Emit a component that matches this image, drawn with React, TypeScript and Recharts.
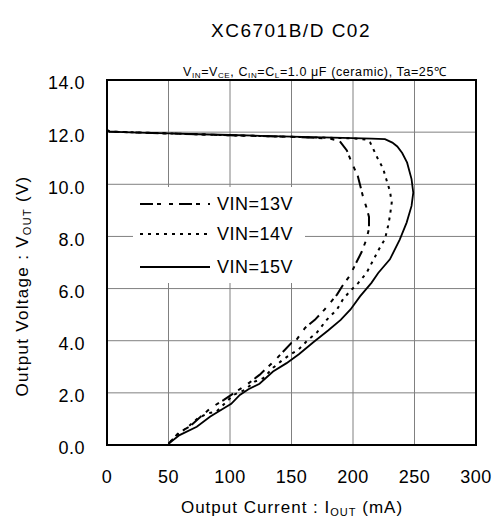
import React from "react";
import {
  LineChart,
  Line,
  XAxis,
  YAxis,
  CartesianGrid,
  Legend,
  ReferenceArea,
} from "recharts";

// VIN=13V curve (mA, V) following the trace from no load round the fold-back to 0 V
const vin13Current = [0, 2, 50, 100, 150, 180, 189, 195, 199, 204, 208, 211, 213, 213, 211, 207, 201.6, 197.6, 192, 187, 177, 169, 161, 153, 150, 137, 124, 113.5, 105, 95, 84, 67, 59, 50];
const vin13Voltage = [12.08, 12.02, 11.95, 11.88, 11.82, 11.76, 11.67, 11.3, 10.83, 10.3, 9.55, 9.1, 8.75, 8.3, 7.9, 7.4, 6.9, 6.5, 6.15, 5.77, 5.2, 4.8, 4.49, 3.97, 3.92, 3.27, 2.69, 2.31, 2.05, 1.73, 1.41, 0.7, 0.5, 0.05];

// VIN=14V curve
const vin14Current = [0, 2, 50, 100, 150, 200, 210, 214, 220, 224.5, 227, 230, 231.5, 230, 228.5, 226, 221, 216, 211, 204, 197.6, 192, 187, 178.6, 170.4, 163.6, 155.5, 150, 143, 135, 127, 120, 112, 102.7, 89, 82.3, 74, 66, 56.6, 50];
const vin14Voltage = [12.08, 12.02, 11.95, 11.88, 11.82, 11.76, 11.72, 11.6, 11.0, 10.6, 10.2, 9.74, 9.3, 8.78, 8.4, 7.9, 7.5, 7.05, 6.6, 6.2, 5.9, 5.6, 5.2, 4.8, 4.3, 4.04, 3.65, 3.5, 3.27, 2.96, 2.56, 2.43, 2.11, 1.92, 1.28, 1.22, 1.03, 0.7, 0.38, 0.05];

// VIN=15V curve
const vin15Current = [0, 2, 25, 50, 75, 100, 125, 150, 175, 200, 215, 226, 232, 236, 240, 244, 247.6, 249, 247.6, 243.6, 238, 230, 220.5, 215, 205.7, 198, 190, 180, 168, 156, 146, 135, 124, 115, 108, 101, 95, 84, 73, 59, 50];
const vin15Voltage = [12.08, 12.02, 11.98, 11.95, 11.92, 11.89, 11.86, 11.83, 11.8, 11.77, 11.75, 11.73, 11.6, 11.45, 11.2, 10.83, 10.2, 9.68, 9.17, 8.53, 7.88, 7.12, 6.6, 6.22, 5.7, 5.2, 4.8, 4.4, 3.95, 3.48, 3.14, 2.82, 2.35, 2.14, 1.92, 1.58, 1.41, 1.09, 0.7, 0.38, 0.05];

const xTicks = [0, 50, 100, 150, 200, 250, 300];
const yTicks = [0, 2, 4, 6, 8, 10, 12, 14];

const toPoints = (xs: number[], ys: number[]) => xs.map((x, i) => ({ x, v: ys[i] }));

const series = [
  { name: "VIN=13V", data: toPoints(vin13Current, vin13Voltage), dash: "13 4 4 8 4 6", width: 2 },
  { name: "VIN=14V", data: toPoints(vin14Current, vin14Voltage), dash: "3 5", width: 2 },
  { name: "VIN=15V", data: toPoints(vin15Current, vin15Voltage), dash: undefined, width: 1.8 },
];

const FONT = "'Liberation Sans', Arial, sans-serif";

const renderLegend = () => (
  <svg width={172} height={96} style={{ display: "block" }}>
    {series.map((s, i) => {
      const y = [17, 47, 80][i];
      return (
        <g key={s.name}>
          <line x1={7} x2={77} y1={y} y2={y} stroke="#000" strokeWidth={s.width} strokeDasharray={s.dash} />
          <text x={84} y={y} dy="0.36em" fontSize={18} fontFamily={FONT} letterSpacing={0.5} fill="#000">
            {s.name}
          </text>
        </g>
      );
    })}
  </svg>
);

export default function App() {
  return (
    <div style={{ position: "absolute", left: 0, top: 0, width: 496, height: 518, background: "#fff" }}>
      <LineChart width={496} height={518} margin={{ top: 80, right: 20, bottom: 33, left: 47 }}>
        <CartesianGrid stroke="#808080" strokeWidth={1} />
        <XAxis
          dataKey="x"
          type="number"
          domain={[0, 300]}
          ticks={xTicks}
          interval={0}
          height={40}
          tickSize={0}
          tickMargin={25}
          tickLine={false}
          axisLine={false}
          tick={{ fill: "#000", fontSize: 18, fontFamily: FONT, letterSpacing: 0.5 }}
          allowDuplicatedCategory={false}
        />
        <YAxis
          type="number"
          domain={[0, 14]}
          ticks={yTicks}
          interval={0}
          width={60}
          tickSize={0}
          tickMargin={22}
          tickLine={false}
          axisLine={false}
          tickFormatter={(v: number) => v.toFixed(1)}
          tick={{ fill: "#000", fontSize: 18, fontFamily: FONT, letterSpacing: 0.5, dy: 3 }}
        />
        <ReferenceArea x1={0} x2={300} y1={0} y2={14} fill="none" stroke="#000" strokeWidth={2} ifOverflow="visible" />
        {series.map((s) => (
          <Line
            key={s.name}
            data={s.data}
            dataKey="v"
            name={s.name}
            type="linear"
            stroke="#000"
            strokeWidth={s.width}
            strokeDasharray={s.dash}
            dot={false}
            activeDot={false}
            isAnimationActive={false}
          />
        ))}
        <Legend
          layout="horizontal"
          verticalAlign="middle"
          align="center"
          content={renderLegend}
          wrapperStyle={{ left: 133, top: 187, width: 172, height: 96, background: "#fff" }}
        />
      </LineChart>
      <svg width={496} height={518} style={{ position: "absolute", left: 0, top: 0, pointerEvents: "none" }}>
        <text x={291} y={37} textAnchor="middle" fontSize={19} fontFamily={FONT} letterSpacing={1.5} fill="#000">
          XC6701B/D C02
        </text>
        <text x={183} y={76} fontSize={12.5} fontFamily={FONT} letterSpacing={0.6} fill="#000">
          V<tspan fontSize={8} dy={2}>IN</tspan>
          <tspan dy={-2}>=V</tspan>
          <tspan fontSize={8} dy={2}>CE</tspan>
          <tspan dy={-2}>, C</tspan>
          <tspan fontSize={8} dy={2}>IN</tspan>
          <tspan dy={-2}>=C</tspan>
          <tspan fontSize={8} dy={2}>L</tspan>
          <tspan dy={-2}>=1.0 μF (ceramic), Ta=25℃</tspan>
        </text>
        <text x={292} y={513} textAnchor="middle" fontSize={17} fontFamily={FONT} letterSpacing={1} fill="#000">
          Output Current : I<tspan fontSize={11} dy={3}>OUT</tspan>
          <tspan dy={-3}> (mA)</tspan>
        </text>
        <text
          transform="translate(28,286) rotate(-90)"
          textAnchor="middle"
          fontSize={17}
          fontFamily={FONT}
          letterSpacing={1.3}
          fill="#000"
        >
          Output Voltage : V<tspan fontSize={11} dy={3}>OUT</tspan>
          <tspan dy={-3}> (V)</tspan>
        </text>
      </svg>
    </div>
  );
}
